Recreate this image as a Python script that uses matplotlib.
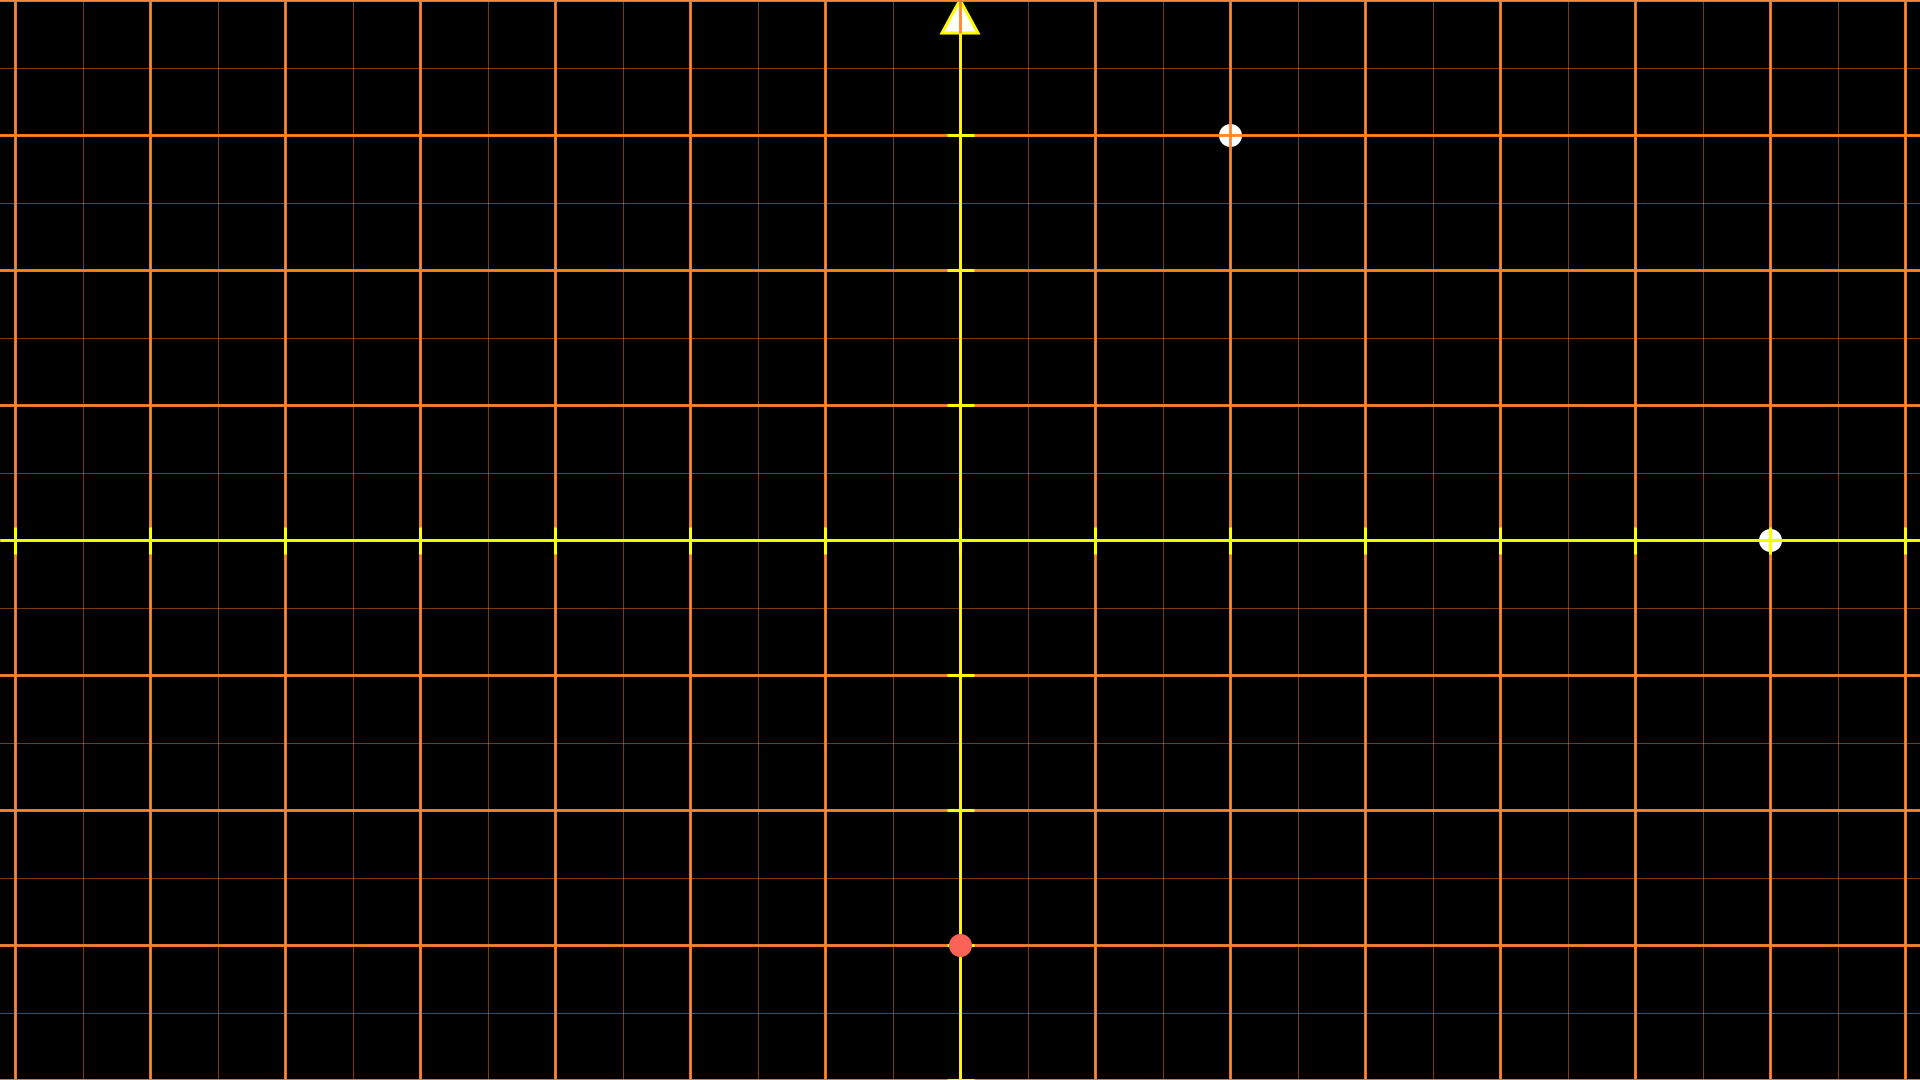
import numpy as np
import matplotlib
matplotlib.use("Agg")
import matplotlib.pyplot as plt
from matplotlib.patches import Polygon

# ---- data ----
point_x = [2, 6, 0]
point_y = [3, 0, -3]
point_colors = ["#FFFFFF", "#FFFFFF", "#FC6255"]
point_on_top = [False, False, True]

x_range = (-7, 7)
y_range = (-4, 4)
unit_px = 135.0

ORANGE = "#FF862F"
YELLOW = "#FFFF00"

W, H = 1920, 1080
fig = plt.figure(figsize=(W / 100, H / 100), dpi=100, facecolor="black")
ax = fig.add_axes([0, 0, 1, 1])
ax.set_facecolor("black")
xhalf = W / 2 / unit_px
yhalf = H / 2 / unit_px
ax.set_xlim(-xhalf, xhalf)
ax.set_ylim(-yhalf, yhalf)
ax.axis("off")

# minor grid (half units)
for v in np.arange(x_range[0] - 0.5, x_range[1] + 1.0, 1.0):
    ax.axvline(v, color=ORANGE, alpha=0.45, lw=0.8, zorder=1)
for v in np.arange(y_range[0] + 0.5, y_range[1], 1.0):
    ax.axhline(v, color=ORANGE, alpha=0.45, lw=0.8, zorder=1)

# major grid
for v in range(x_range[0], x_range[1] + 1):
    ax.axvline(v, color=ORANGE, lw=2.0, zorder=2)
for v in range(y_range[0], y_range[1] + 1):
    ax.axhline(v, color=ORANGE, lw=2.0, zorder=2)

# arrow tip on y axis
tip_len = 33 / unit_px
tip_hw = 18 / unit_px
tri = Polygon([[0, y_range[1]], [-tip_hw, y_range[1] - tip_len], [tip_hw, y_range[1] - tip_len]],
              closed=True, facecolor="white", edgecolor=YELLOW, lw=2.2, zorder=1.5)
ax.add_patch(tri)

# axes
ax.plot([-xhalf, xhalf], [0, 0], color=YELLOW, lw=2.0, zorder=3, solid_capstyle="butt")
ax.plot([0, 0], [y_range[0], y_range[1] - tip_len], color=YELLOW, lw=2.0, zorder=3,
        solid_capstyle="butt")

tick = 0.1
for v in range(x_range[0], x_range[1] + 1):
    ax.plot([v, v], [-tick, tick], color=YELLOW, lw=2.2, zorder=3, solid_capstyle="butt")
for v in range(y_range[0], y_range[1]):
    ax.plot([-tick, tick], [v, v], color=YELLOW, lw=2.2, zorder=3, solid_capstyle="butt")

# points
for px, py, c, top in zip(point_x, point_y, point_colors, point_on_top):
    ax.scatter([px], [py], s=(23 * 0.72) ** 2, color=c, linewidths=0,
               zorder=6 if top else 0.5)

fig.savefig("out.png", dpi=100, facecolor="black")
